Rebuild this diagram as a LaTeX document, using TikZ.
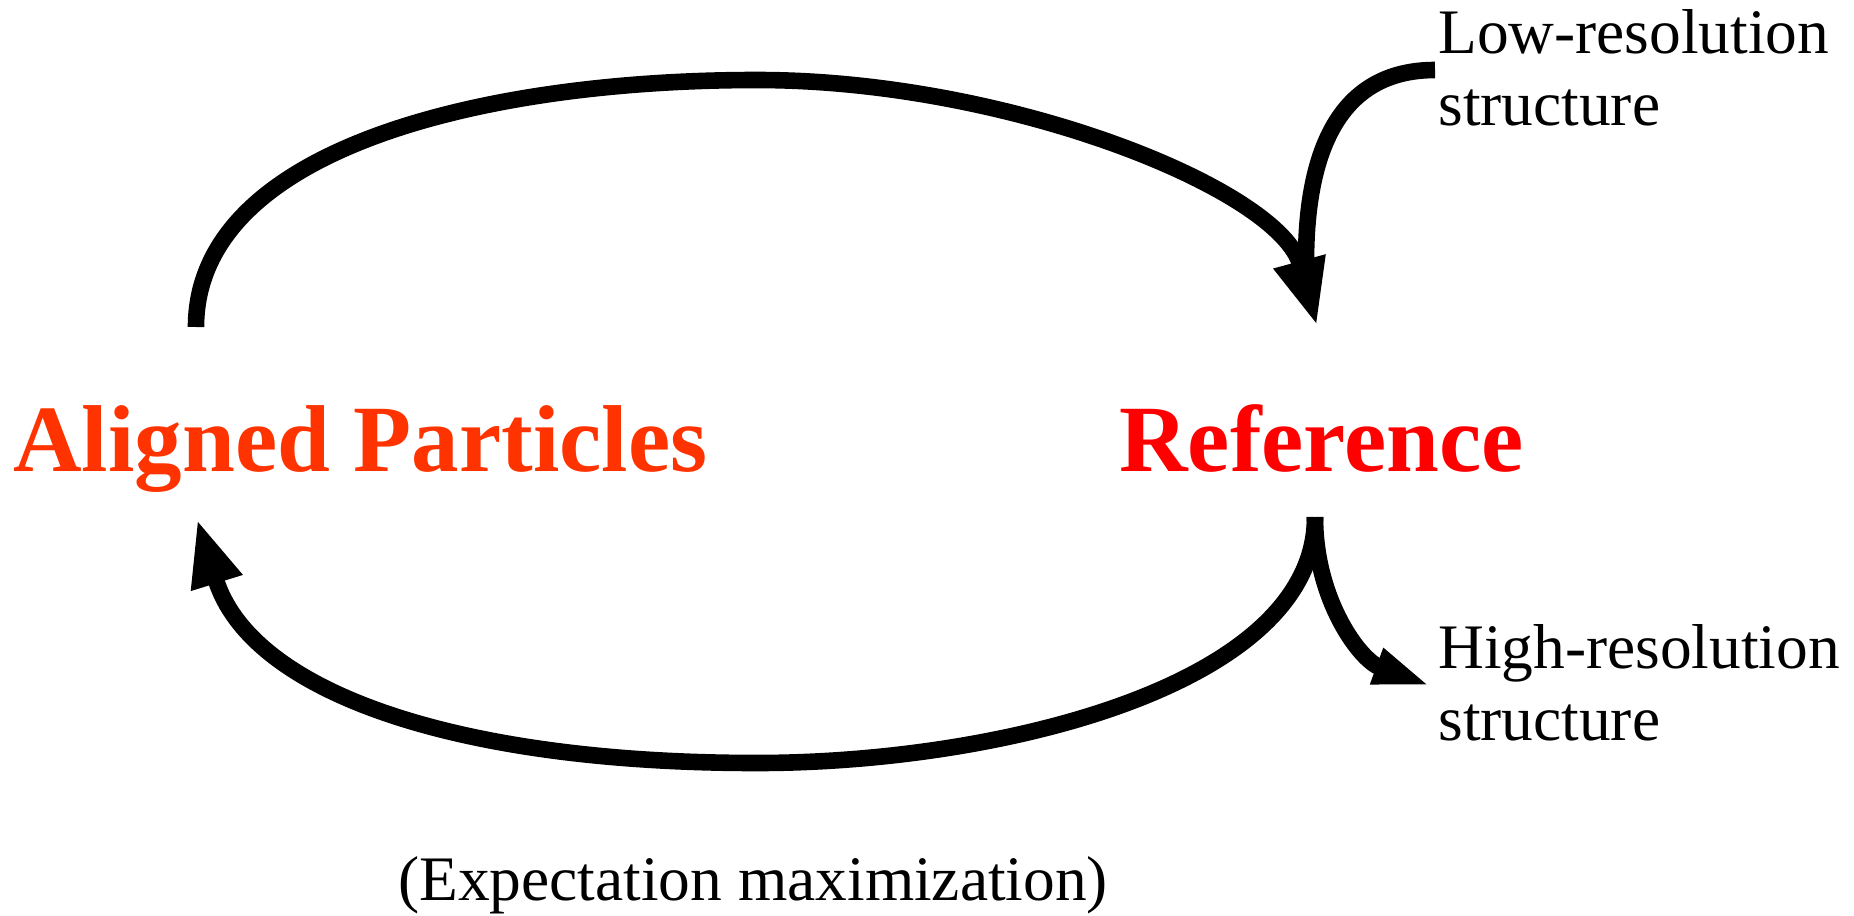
\documentclass[tikz,border=0pt]{standalone}
\usepackage{fontspec}
\setmainfont{Liberation Serif}
\usetikzlibrary{arrows.meta}
\definecolor{apred}{HTML}{FF3300}
\definecolor{refred}{HTML}{FF0000}
\begin{document}
\begin{tikzpicture}[x=0.5pt,y=-0.5pt,
  big/.style={font=\fontsize{47.5}{57}\selectfont\bfseries, inner sep=0pt, anchor=base west},
  small/.style={font=\fontsize{31.7}{36}\selectfont, inner sep=0pt, anchor=base west, align=left},
  conn/.style={line width=8.3pt, draw=black},
  bighead/.style={-{Triangle[length=33.5pt,width=24.5pt]}},
  smallhead/.style={-{Triangle[length=29pt,width=17pt]}}
]
\useasboundingbox (0,0) rectangle (1854,916);
\node[big, text=apred] (ap) at (13,471) {Aligned Particles};
\node[big, text=refred] (ref) at (1119,471) {Reference};
\node[small] (low) at (1438,125) {Low-resolution\\structure};
\node[small] (high) at (1438,740) {High-resolution\\structure};
\node[small] (em) at (398,900) {(Expectation maximization)};
\coordinate (apTop) at (196,327);
\coordinate (refTop) at (1317,326);
\coordinate (lowStart) at (1435,70);
\coordinate (lowEnd) at (1306,262);
\coordinate (refBot) at (1315,517);
\coordinate (apBot) at (197,519);
\coordinate (highEnd) at (1431,686);
\draw[conn, bighead] (apTop) .. controls (196,150) and (480,80) .. (757,80) .. controls (1010,80) and (1280,190) .. (refTop);
\draw[conn] (lowStart) .. controls (1340,70) and (1306,150) .. (lowEnd);
\draw[conn, bighead] (refBot) .. controls (1315,685) and (1000,763) .. (757,763) .. controls (450,763) and (250,690) .. (apBot);
\draw[conn, smallhead] (refBot) .. controls (1315,600) and (1360,660) .. (highEnd);
\end{tikzpicture}
\end{document}
